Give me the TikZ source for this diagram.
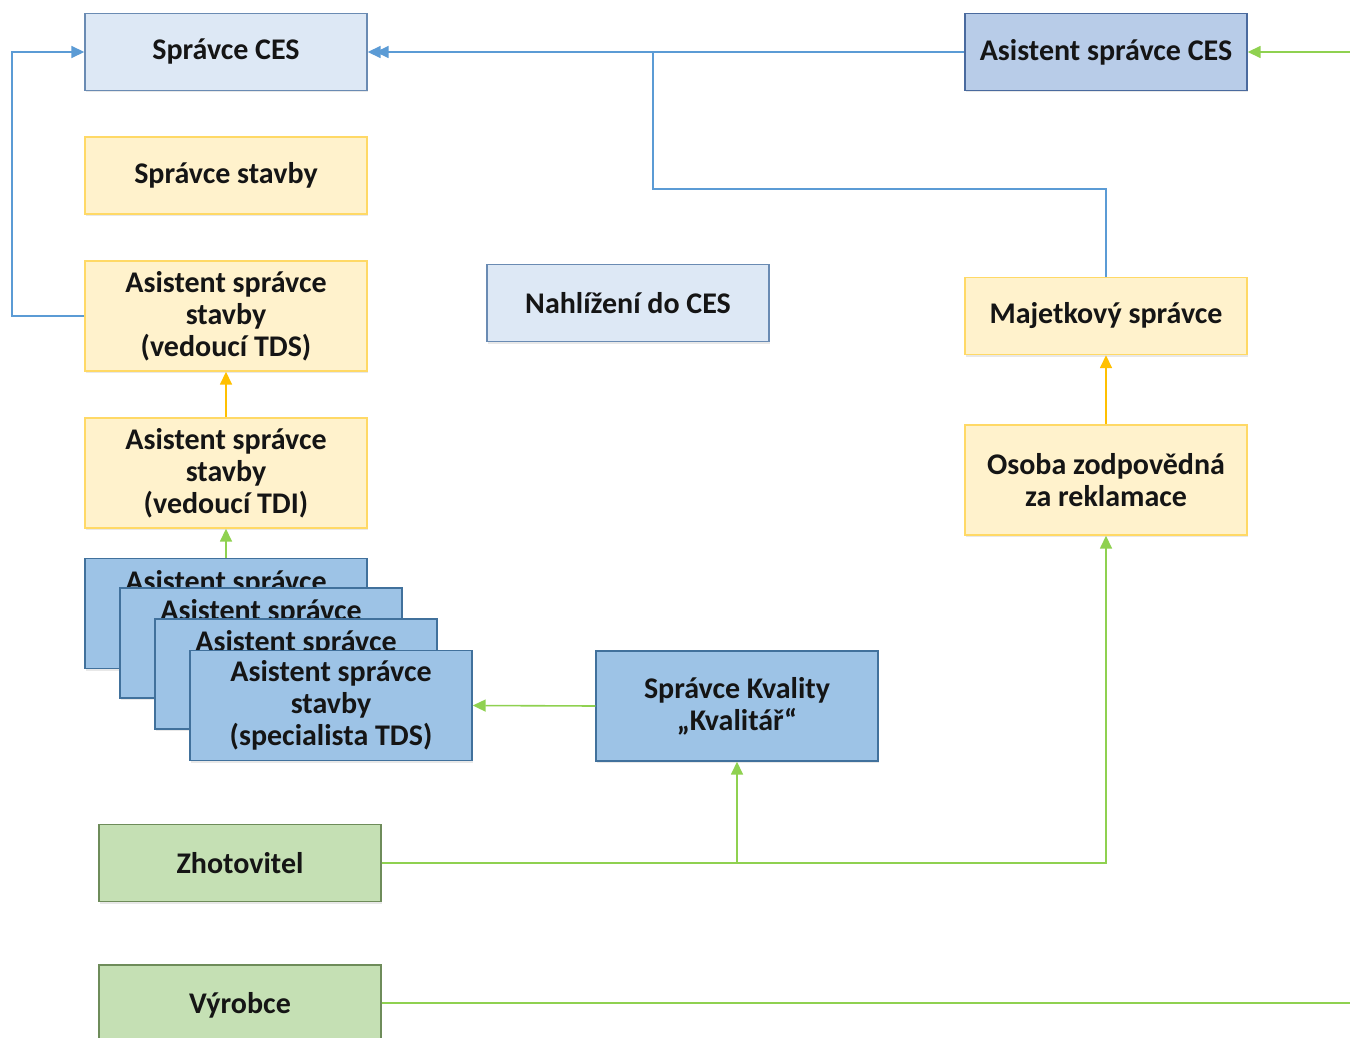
\documentclass[tikz,border=0pt]{standalone}
\usepackage{fontspec}
\setmainfont{Carlito}
\usetikzlibrary{arrows.meta,shadows}
\definecolor{lbfill}{HTML}{DDE8F5}
\definecolor{lbdraw}{HTML}{6A8BB3}
\definecolor{mbfill}{HTML}{B8CCE8}
\definecolor{mbdraw}{HTML}{4A6A9E}
\definecolor{bfill}{HTML}{9DC3E6}
\definecolor{bdraw}{HTML}{41719C}
\definecolor{yfill}{HTML}{FFF2CC}
\definecolor{ydraw}{HTML}{FFD966}
\definecolor{gfill}{HTML}{C5E0B4}
\definecolor{gdraw}{HTML}{6E8C5A}
\definecolor{bline}{HTML}{5B9BD5}
\definecolor{gline}{HTML}{8FD150}
\definecolor{oline}{HTML}{FFC000}
\definecolor{txt}{HTML}{151515}
\begin{document}
\begin{tikzpicture}[x=1pt,y=-1pt,
  fnt/.style={font=\fontsize{30}{32}\selectfont\bfseries, text=txt},
  box/.style={rectangle, line width=1.4pt, minimum width=282pt, align=center, fnt,
    drop shadow={shadow xshift=1pt, shadow yshift=-2pt, opacity=0.18}},
  lb/.style={box, fill=lbfill, draw=lbdraw},
  mb/.style={box, fill=mbfill, draw=mbdraw},
  bb/.style={box, fill=bfill, draw=bdraw},
  yb/.style={box, fill=yfill, draw=ydraw},
  gb/.style={box, fill=gfill, draw=gdraw},
  short/.style={minimum height=77pt},
  tall/.style={minimum height=110pt},
  stxt/.style={fnt, inner sep=0pt, anchor=base},
  tip/.style={-{Triangle[length=13pt,width=12pt]}},
  bl/.style={draw=bline, line width=1.6pt},
  gl/.style={draw=gline, line width=1.6pt},
  ol/.style={draw=oline, line width=1.6pt}]
\useasboundingbox[fill=white] (0,0) rectangle (1350,1038);

\node[lb,short] (sces) at (226,52) {Správce CES};
\node[yb,short] (sst) at (226,175.5) {Správce stavby};
\node[yb,tall] (tds) at (226,316) {Asistent správce\\stavby\\(vedoucí TDS)};
\node[yb,tall] (tdi) at (226,473) {Asistent správce\\stavby\\(vedoucí TDI)};
\node[bb,tall] (s1) at (226,613.5) {};
\node[stxt] (s1t) at (226,591) {Asistent správce};
\node[bb,tall] (s2) at (261,643) {};
\node[stxt] (s2t) at (261,620.5) {Asistent správce};
\node[bb,tall] (s3) at (296,674) {};
\node[stxt] (s3t) at (296,651.5) {Asistent správce};
\node[bb,tall] (s4) at (331,705.5) {Asistent správce\\stavby\\(specialista TDS)};
\node[lb,short] (nahl) at (628,303) {Nahlížení do CES};
\node[mb,short] (asces) at (1106,52) {Asistent správce CES};
\node[yb,short] (maj) at (1106,316) {Majetkový správce};
\node[yb,tall] (osoba) at (1106,480) {Osoba zodpovědná\\za reklamace};
\node[bb,tall] (kval) at (737,706) {Správce Kvality\\„Kvalitář“};
\node[gb,short] (zhot) at (240,863) {Zhotovitel};
\node[gb,minimum height=80pt] (vyr) at (240,1005) {\raisebox{2pt}{Výrobce}};

\coordinate (lft) at (12,52);
\coordinate (rt1) at (1352,52);
\coordinate (rt2) at (1352,1003);
\coordinate (jn) at (653,189);

% blue connectors
\draw[bl,tip] (tds.west) -| (lft) -- (sces.west);
\draw[bl,tip] (asces.west) -- (sces.east);
\draw[bl,tip,shorten >=8pt] (maj.north) |- (jn) |- (sces.east);
% green right entry
\draw[gl,tip] (rt1) -- (asces.east);
% orange
\draw[ol,tip] (tdi.north) -- (tds.south);
\draw[ol,tip] (osoba.north) -- (maj.south);
% green
\draw[gl,tip] (s1.north) -- (tdi.south);
\draw[gl,tip] (kval.west) -- (s4.east);
\draw[gl,tip] (zhot.east) -| (osoba.south);
\draw[gl,tip] (zhot.east -| kval.south) -- (kval.south);
\draw[gl] (vyr.east |- rt2) -- (rt2);
\end{tikzpicture}
\end{document}
